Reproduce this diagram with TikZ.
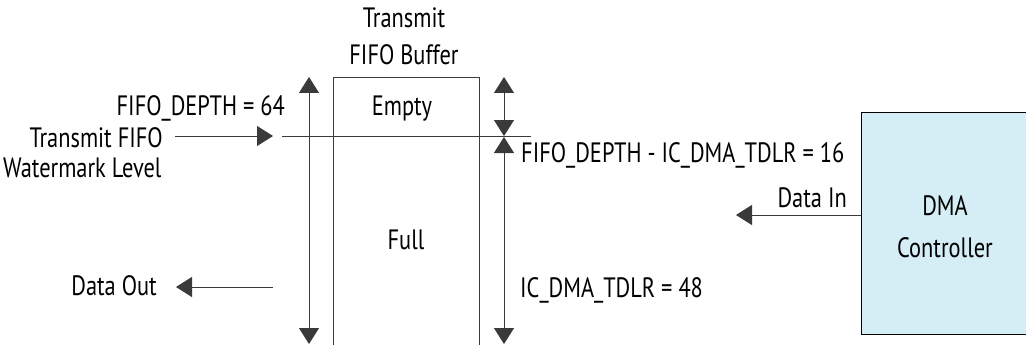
\documentclass[tikz,border=0pt]{standalone}
\usepackage{fontspec}
\setmainfont{PT Sans}[FakeStretch=0.8]
\usetikzlibrary{arrows.meta}
\definecolor{dmafill}{HTML}{D5EDF5}
\definecolor{linegray}{HTML}{3A3A3A}
\begin{document}
\begin{tikzpicture}[x=1pt,y=-1pt,
  txt/.style={inner sep=0pt,font=\fontsize{28}{32}\selectfont},
  ln/.style={draw=linegray,line width=0.9pt},
  tip/.style={-{Triangle[length=16pt,width=20pt]}},
  dtip/.style={{Triangle[length=16pt,width=20pt]}-{Triangle[length=16pt,width=20pt]}}]
\useasboundingbox (0,0) rectangle (1026,345);
% coordinates
\coordinate (bufBL) at (333,345);
\coordinate (bufTL) at (333,77);
\coordinate (bufTR) at (479,77);
\coordinate (bufBR) at (479,345);
\coordinate (wmL) at (282,136);
\coordinate (wmR) at (531,136);
\coordinate (laT) at (309,77);
\coordinate (laB) at (309,344);
\coordinate (raT) at (504,77);
\coordinate (raM) at (504,136);
\coordinate (raMu) at (504,137);
\coordinate (raB) at (504,344);
\coordinate (wmArrS) at (175,136);
\coordinate (wmArrE) at (273,136);
\coordinate (doS) at (273,287);
\coordinate (doE) at (176,287);
\coordinate (diE) at (736,215);
% DMA box
\fill[dmafill] (861,112) rectangle (1026,334);
\draw[ln,draw=black] (1026,112) -- (861,112) -- (861,334) -- (1026,334);
\coordinate (dmaW) at (861,215);
% buffer
\draw[ln] (bufBL) -- (bufTL) -- (bufTR) -- (bufBR);
\draw[ln] (wmL) -- (wmR);
% arrows
\draw[ln,dtip] (laT) -- (laB);
\draw[ln,dtip] (raT) -- (raM);
\draw[ln,dtip] (raMu) -- (raB);
\draw[ln,tip] (wmArrS) -- (wmArrE);
\draw[ln,tip] (doS) -- (doE);
\draw[ln,tip] (dmaW) -- (diE);
% texts
\node[txt,anchor=base] (t1) at (404,28) {Transmit};
\node[txt,anchor=base] (t2) at (404,65) {FIFO Buffer};
\node[txt,anchor=base] (empty) at (402,115) {Empty};
\node[txt,anchor=base] (full) at (406,249) {Full};
\node[txt,anchor=base east] (fd) at (285,115) {FIFO\_DEPTH = 64};
\node[txt,anchor=base east] (tf) at (163,147) {Transmit FIFO};
\node[txt,anchor=base west] (wl) at (3,177) {Watermark Level};
\node[txt,anchor=base east] (dout) at (157,295) {Data Out};
\node[txt,anchor=base west] (fdm) at (521,162) {FIFO\_DEPTH - IC\_DMA\_TDLR = 16};
\node[txt,anchor=base east] (din) at (847,207) {Data In};
\node[txt,anchor=base west] (tdlr) at (520,297) {IC\_DMA\_TDLR = 48};
\node[txt,anchor=base] (dma) at (945,215) {DMA};
\node[txt,anchor=base] (ctl) at (945,257) {Controller};
\end{tikzpicture}
\end{document}
